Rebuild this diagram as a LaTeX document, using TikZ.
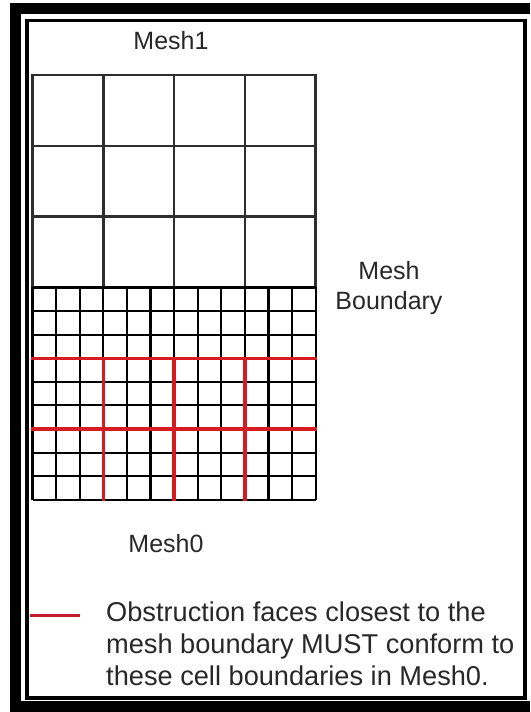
\documentclass[tikz,border=0pt]{standalone}
\usepackage{fontspec}
\setmainfont{Liberation Sans}
\definecolor{obsred}{RGB}{214,28,32}
\definecolor{legred}{RGB}{190,30,45}
\definecolor{txt}{RGB}{40,40,40}
\begin{document}
\begin{tikzpicture}[x=1pt,y=-1pt,
  frameband/.style={fill=black},
  innerframe/.style={draw=black,line width=3.6pt},
  coarse/.style={draw=black!82,line width=2.6pt},
  fine/.style={draw=black,line width=2.1pt},
  bound/.style={draw=black,line width=3pt},
  redline/.style={draw=obsred,line width=3.3pt,line cap=rect},
  legline/.style={draw=legred,line width=3pt},
  meshlabel/.style={font=\fontsize{25}{30}\selectfont,text=txt,inner sep=0pt},
  legend/.style={font=\fontsize{27.2}{32}\selectfont,text=txt,inner sep=0pt,anchor=base west}]
\useasboundingbox (0,0) rectangle (530,712);
\fill[white] (0,0) rectangle (530,712);
% outer thick frame (right side lies outside the picture)
\fill[frameband] (10,3.3) rectangle (530,14);
\fill[frameband] (10,3.3) rectangle (21,712);
\fill[frameband] (10,700.8) rectangle (530,712);
% inner frame
\draw[innerframe] (27,20.3) rectangle (525,697.8);
% Mesh1 coarse grid
\def\xo{32.5}\def\yo{75}\def\cs{70.8}\def\fs{23.6}
\foreach \i in {1,2,3} {
  \draw[coarse] ({\xo+\cs*\i},\yo) -- ({\xo+\cs*\i},{\yo+3*\cs});
}
\foreach \j in {1,2} {
  \draw[coarse] (\xo,{\yo+\cs*\j}) -- ({\xo+4*\cs},{\yo+\cs*\j});
}
\draw[coarse] (\xo,{\yo+3*\cs}) -- (\xo,\yo) -- ({\xo+4*\cs},\yo) -- ({\xo+4*\cs},{\yo+3*\cs});
% Mesh0 fine grid
\def\yb{287.4}
\foreach \i in {0,...,12} {
  \draw[fine] ({\xo+\fs*\i},\yb) -- ({\xo+\fs*\i},{\yb+9*\fs});
}
\foreach \j in {1,...,9} {
  \draw[fine] (\xo,{\yb+\fs*\j}) -- ({\xo+12*\fs},{\yb+\fs*\j});
}
% red obstruction-conforming lines
\foreach \j in {1,2} {
  \draw[redline] (\xo,{\yb+\cs*\j}) -- ({\xo+4*\cs},{\yb+\cs*\j});
}
\foreach \i in {1,2,3} {
  \draw[redline] ({\xo+\cs*\i},{\yb+\cs}) -- ({\xo+\cs*\i},{\yb+9*\fs});
}
% mesh boundary
\draw[bound] (\xo,\yb) -- ({\xo+4*\cs},\yb);
% labels
\node[meshlabel,anchor=base] (mesh1) at (171,49) {Mesh1};
\node[meshlabel,anchor=base] (mesh0) at (166,552) {Mesh0};
\node[meshlabel,anchor=base] (mb1) at (389,279) {Mesh};
\node[meshlabel,anchor=base] (mb2) at (389,309) {Boundary};
% legend
\coordinate (la) at (30,615);
\coordinate (lb) at (80,615);
\draw[legline] (la) -- (lb);
\node[legend] (l1) at (106,621) {Obstruction faces closest to the};
\node[legend] (l2) at (106,653) {mesh boundary MUST conform to};
\node[legend] (l3) at (106,685) {these cell boundaries in Mesh0.};
\end{tikzpicture}
\end{document}
